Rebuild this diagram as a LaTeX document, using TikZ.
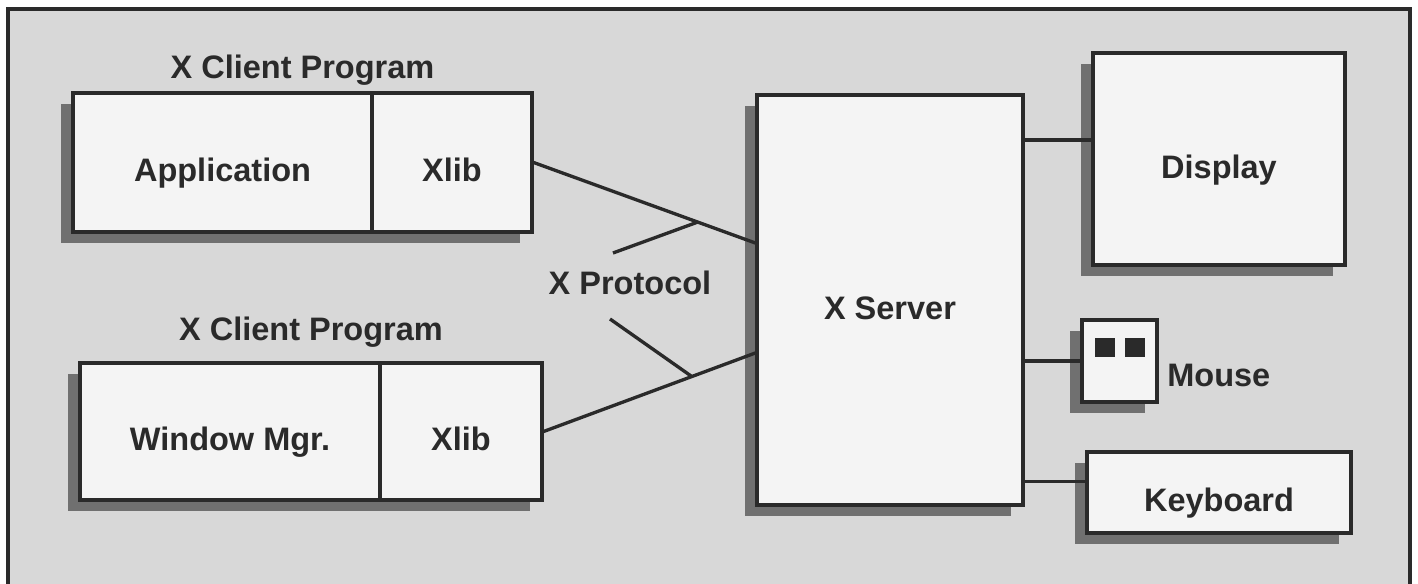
\documentclass[tikz,border=0pt]{standalone}
\usepackage{fontspec}
\setsansfont{Liberation Sans}
\usetikzlibrary{positioning,shadows}
\definecolor{paperG}{RGB}{216,216,216}
\definecolor{boxW}{RGB}{244,244,244}
\definecolor{shadG}{RGB}{112,112,112}
\definecolor{inkG}{RGB}{42,42,42}

\begin{document}
\begin{tikzpicture}[x=0.02cm,y=-0.02cm,font=\sffamily\bfseries\fontsize{18.5}{22}\selectfont,text=inkG]
  \tikzset{box/.style={draw=inkG,line width=1.9pt,fill=boxW,inner sep=0pt,text height=0.78cm,text depth=0pt,minimum width=#1},
    shd/.style={drop shadow={shadow xshift=-0.24cm,shadow yshift=-0.22cm,fill=shadG,opacity=1}},
    wire/.style={draw=inkG,line width=1.9pt}}
  \useasboundingbox (0,0) rectangle (1418,584);
  \fill[paperG] (8,9) rectangle (1410,584);
  \draw[inkG,line width=2pt] (8,584) -- (8,9) -- (1410,9) -- (1410,584);
  % clients
  \node[box=9.18cm,minimum height=2.78cm,shd] (cl1) at (302.5,162.5) {};
  \node[box=5.98cm,minimum height=2.78cm,anchor=west] (app1) at (cl1.west) {Application};
  \node[box=3.2cm,minimum height=2.78cm,anchor=east] (xlib1) at (cl1.east) {Xlib};
  \node[above=0.12cm of cl1,inner sep=0pt] (ttl1) {X Client Program};
  \node[box=9.24cm,minimum height=2.74cm,shd] (cl2) at (311,431.5) {};
  \node[box=6.0cm,minimum height=2.74cm,anchor=west] (app2) at (cl2.west) {Window Mgr.};
  \node[box=3.24cm,minimum height=2.74cm,anchor=east] (xlib2) at (cl2.east) {Xlib};
  \node[above=0.28cm of cl2,inner sep=0pt] (ttl2) {X Client Program};
  % server and devices
  \node[box=5.32cm,minimum height=8.2cm,shd] (srv) at (890,300) {X Server};
  \node[box=5.04cm,minimum height=4.24cm,shd] (disp) at (1219,159) {Display};
  \node[box=1.5cm,minimum height=1.64cm,shd] (mouse) at (1119.5,361) {};
  \node[fill=inkG,minimum width=0.4cm,minimum height=0.38cm,inner sep=0pt] (btnL) at (1105,347.5) {};
  \node[fill=inkG,minimum width=0.4cm,minimum height=0.38cm,inner sep=0pt] (btnR) at (1134.5,347.5) {};
  \node[anchor=west,inner sep=0pt] (mlbl) at (1167,375) {Mouse};
  \node[box=5.28cm,minimum height=1.62cm,shd] (kbd) at (1219,492.5) {Keyboard};
  % protocol wires
  \coordinate (inA) at ([yshift=1.14cm]srv.west);
  \coordinate (inB) at ([yshift=-1.06cm]srv.west);
  \draw[wire] (xlib1.east) -- coordinate[pos=0.74] (tapA) (inA);
  \draw[wire] (xlib2.east) -- coordinate[pos=0.7] (tapB) (inB);
  \coordinate (endA) at (613,253);
  \coordinate (endB) at (610,319);
  \draw[wire] (endA) -- (tapA);
  \draw[wire] (endB) -- (tapB);
  \node (proto) at (630,283) {X Protocol};
  % device wires
  \coordinate (outD) at ([yshift=3.2cm]srv.east);
  \draw[wire] (outD) -- (outD -| disp.west);
  \draw[wire] (mouse.west -| srv.east) -- (mouse.west);
  \coordinate (inK) at ([yshift=0.22cm]kbd.west);
  \draw[wire] (inK -| srv.east) -- (inK);
\end{tikzpicture}
\end{document}
